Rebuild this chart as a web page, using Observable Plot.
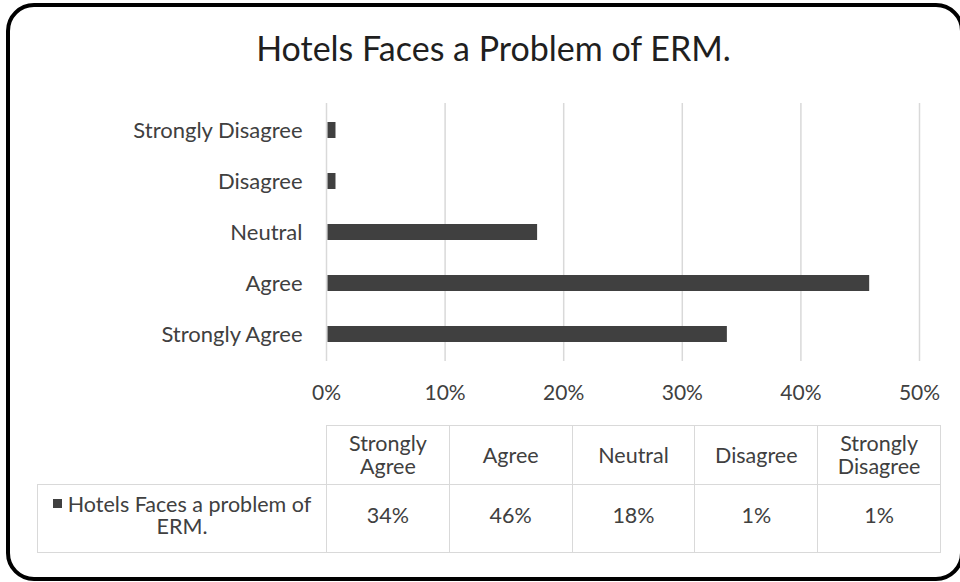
<!DOCTYPE html>
<html>
<head>
<meta charset="utf-8">
<script src="https://cdn.jsdelivr.net/npm/d3@7"></script>
<script src="https://cdn.jsdelivr.net/npm/@observablehq/plot@0.6"></script>
<style>
  html, body { margin: 0; padding: 0; background: #fff; }
  body { width: 960px; height: 582px; overflow: hidden; position: relative; font-family: Lato, "Open Sans", sans-serif; color: #404040; }
  #frame { position: absolute; left: 6px; top: 3px; width: 958px; height: 578px; box-sizing: border-box; border: 4px solid #000; border-radius: 28px; pointer-events: none; }
  #title { position: absolute; left: 0; top: 27px; width: 987px; text-align: center; font-size: 34px; line-height: 42px; color: #1f1f1f; }
  #chart { position: absolute; left: 0; top: 0; }
  #tbl { position: absolute; left: 37px; top: 425px; border-collapse: collapse; table-layout: fixed; font-size: 21.5px; color: #404040; }
  #tbl td { border: 1px solid #d9d9d9; text-align: center; vertical-align: middle; padding: 0 5px; line-height: 23px; }
  #tbl td.blank { border-top: none; border-left: none; }
  #tbl tr.head td { height: 58px; }
  #tbl tr.data td { height: 60px; line-height: 22px; padding-bottom: 7px; }
  .key { display: inline-block; width: 9px; height: 9px; background: #404040; vertical-align: middle; margin-right: 6px; position: relative; top: -3px; }
</style>
</head>
<body>
<div id="title">Hotels Faces a Problem of ERM.</div>
<div id="chart"></div>
<table id="tbl"></table>
<div id="frame"></div>
<script>
// Categories in table order (bottom to top on the chart)
const categories = ["Strongly Agree", "Agree", "Neutral", "Disagree", "Strongly Disagree"];
// Bar lengths (percent)
const barValues = [33.8, 45.8, 17.8, 0.8, 0.8];
// Labels printed in the data table
const tableLabels = ["34%", "46%", "18%", "1%", "1%"];
const seriesName = "Hotels Faces a problem of ERM.";
const xTicks = [0, 10, 20, 30, 40, 50];

const data = categories.map((c, i) => ({category: c, value: barValues[i]}));
const yOrder = categories.slice().reverse(); // top: Strongly Disagree

const chart = Plot.plot({
  width: 960,
  height: 420,
  marginLeft: 326,
  marginRight: 41,
  marginTop: 103,
  marginBottom: 59,
  style: {fontFamily: "Lato, 'Open Sans', sans-serif", fontSize: "22px", color: "#404040", background: "transparent"},
  x: {domain: [0, 50], ticks: xTicks},
  y: {domain: yOrder, paddingInner: 0.69, paddingOuter: 0.345},
  marks: [
    Plot.gridX(xTicks, {stroke: "#d9d9d9", strokeOpacity: 1, strokeWidth: 1.5}),
    Plot.barX(data, {x: "value", y: "category", fill: "#404040", insetLeft: 1.5}),
    Plot.axisX({ticks: xTicks, tickSize: 0, tickPadding: 24, tickFormat: d => d + "%", label: null, fontSize: 21}),
    Plot.axisY({tickSize: 0, tickPadding: 24, label: null, fontSize: 22})
  ]
});
document.getElementById("chart").appendChild(chart);

// Data table below the chart
const tbl = document.getElementById("tbl");
const colgroup = document.createElement("colgroup");
[289, 122.8, 122.8, 122.8, 122.8, 122.8].forEach(w => {
  const col = document.createElement("col");
  col.style.width = w + "px";
  colgroup.appendChild(col);
});
tbl.appendChild(colgroup);
const head = document.createElement("tr");
head.className = "head";
const blank = document.createElement("td");
blank.className = "blank";
head.appendChild(blank);
categories.forEach(c => {
  const td = document.createElement("td");
  td.textContent = c;
  head.appendChild(td);
});
tbl.appendChild(head);
const row = document.createElement("tr");
row.className = "data";
const lab = document.createElement("td");
lab.innerHTML = '<span class="key"></span>';
lab.appendChild(document.createTextNode(seriesName));
row.appendChild(lab);
tableLabels.forEach(v => {
  const td = document.createElement("td");
  td.textContent = v;
  row.appendChild(td);
});
tbl.appendChild(row);
</script>
</body>
</html>
